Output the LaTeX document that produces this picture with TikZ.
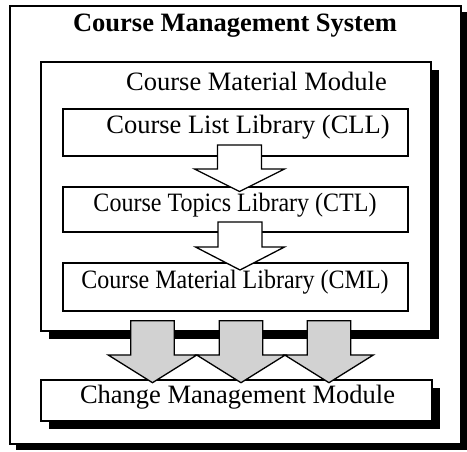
\documentclass[tikz,border=0pt]{standalone}
\usepackage{fontspec}
\setmainfont{Liberation Serif}
\usetikzlibrary{shadows}
\definecolor{arrowgray}{RGB}{210,210,210}
\tikzset{
  box/.style={draw,line width=1.6pt,fill=white,inner sep=0pt},
  shbox/.style={box,drop shadow={shadow xshift=#1,shadow yshift=-#1,opacity=1,fill=black}},
  txt/.style={anchor=base,inner sep=0pt,font=\fontsize{26.5}{30}\selectfont},
  narrow/.style={xscale=0.906,transform shape},
  blockarr/.style={line width=1.3pt,line join=miter,fill=#1},
}
\begin{document}
\begin{tikzpicture}[x=1pt,y=-1pt]
\useasboundingbox (0,0) rectangle (467,452);
% outer frame
\node[shbox=6pt,minimum width=451pt,minimum height=438pt] (cms) at (235.5,225) {};
\node[txt,font=\fontsize{26.5}{30}\selectfont\bfseries] (cms-t) at (235,32) {Course Management System};
% material module
\node[shbox=8pt,minimum width=390pt,minimum height=269pt] (cmm) at (236,196.5) {};
\node[txt] (cmm-t) at (256.5,91) {Course Material Module};
\node[box,minimum width=345pt,minimum height=47pt] (cll) at (235.5,132.5) {};
\node[txt] (cll-t) at (248,133.3) {Course List Library (CLL)};
\node[box,minimum width=345pt,minimum height=45pt] (ctl) at (235.5,209.5) {};
\node[txt,narrow] (ctl-t) at (235,211.7) {Course Topics Library (CTL)};
\node[box,minimum width=345pt,minimum height=48pt] (cml) at (235.5,287) {};
\node[txt,narrow] (cml-t) at (235,288) {Course Material Library (CML)};
% white arrows between libraries
\draw[blockarr=white] (217.5,145) -- (261.5,145) -- (261.5,169) -- (284.5,169) -- (239.5,191.5)
  -- (194.5,169) -- (217.5,169) -- cycle;
\draw[blockarr=white] (218,222) -- (262,222) -- (262,247) -- (284.5,247) -- (240,270)
  -- (195.5,247) -- (218,247) -- cycle;
% change management
\node[shbox=8pt,minimum width=391pt,minimum height=41pt] (chm) at (236.5,400.5) {};
\node[txt] (chm-t) at (237.5,403.3) {Change Management Module};
% gray arrows into change management
\foreach \c in {152.5,241,329}
  \draw[blockarr=arrowgray] (\c-21.7,320.7) -- (\c+21.7,320.7) -- (\c+21.7,355) -- (\c+44.3,355)
    -- (\c,382.7) -- (\c-44.3,355) -- (\c-21.7,355) -- cycle;
\end{tikzpicture}
\end{document}
